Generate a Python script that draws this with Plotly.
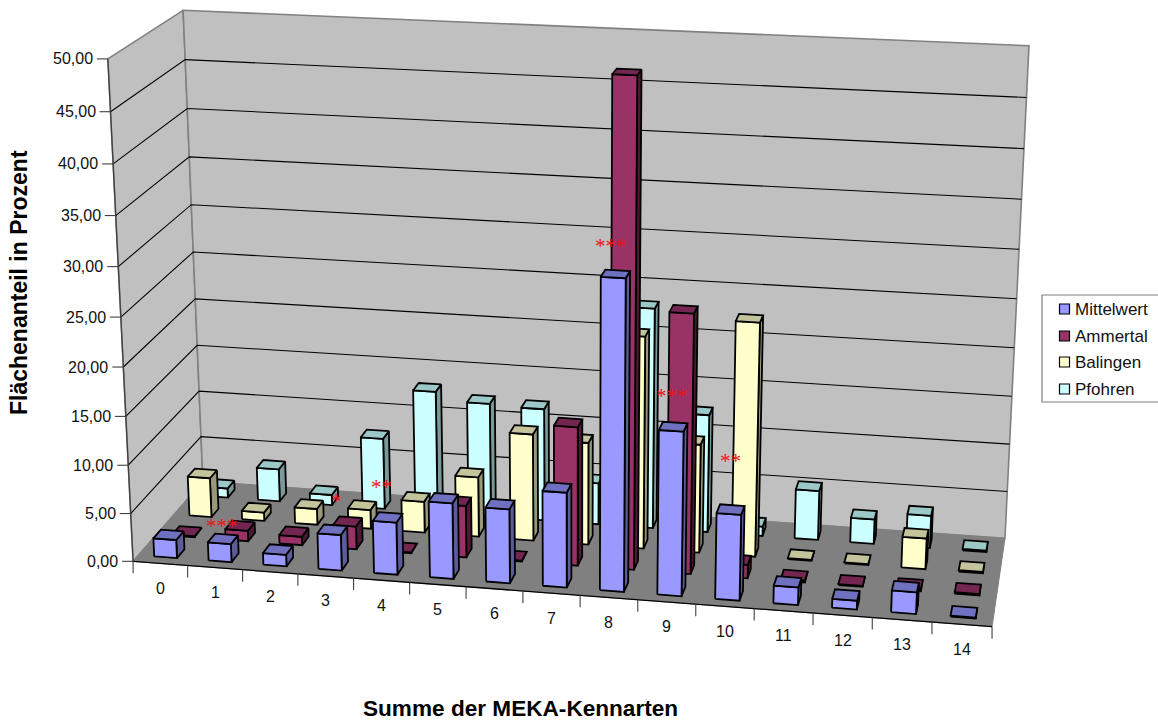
import numpy as np
import plotly.graph_objects as go

# Chart data: share of area per number of MEKA indicator species
categories = [str(i) for i in range(15)]
mittelwert = [1.9, 1.9, 1.2, 3.7, 5.4, 7.8, 7.6, 9.7, 31.2, 16.6, 8.7, 1.8, 0.9, 2.2, 0.1]
ammertal = [0.1, 1.1, 0.9, 2.4, 0.1, 5.4, 0.1, 14.3, 49.0, 26.4, 1.4, 0.2, 0.1, 0.2, 0.15]
balingen = [4.2, 0.9, 1.7, 2.0, 3.3, 6.3, 11.2, 10.7, 22.0, 11.3, 24.1, 0.1, 0.1, 3.2, 0.15]
pfohren = [1.0, 3.5, 1.1, 7.6, 13.0, 12.1, 11.9, 4.4, 23.1, 12.4, 1.0, 5.2, 2.6, 3.4, 0.15]

series_names = ["Mittelwert", "Ammertal", "Balingen", "Pfohren"]
series_values = [mittelwert, ammertal, balingen, pfohren]
front_colors = ["#9999FF", "#993366", "#FFFFCC", "#CCFFFF"]
top_colors = ["#7070C0", "#732650", "#C4C49C", "#9CC8C8"]
side_colors = ["#5C5C99", "#4D1A33", "#99997A", "#7A9999"]

value_ticks = list(range(0, 55, 5))
n_cat, n_ser, z_max = 15, 4, 50.0

# Camera calibration: box corners in chart units and where they sit on the sheet
anchors = [
    ((0, 0, 0), (133, 560)), ((15, 0, 0), (992, 628)), ((15, 4, 0), (1005, 537)),
    ((0, 4, 0), (203, 483)), ((0, 4, 50), (183, 10)), ((15, 4, 50), (1029, 46)),
    ((0, 0, 50), (108, 59)),
]
rows = []
for (cx, cy, cz), (u, v) in anchors:
    p = [cx / 15, cy / 4, cz / 50, 1]
    rows.append(p + [0, 0, 0, 0] + [-u * a for a in p])
    rows.append([0, 0, 0, 0] + p + [-v * a for a in p])
camera = np.linalg.svd(np.array(rows, float))[2][-1].reshape(3, 4)


def project(cx, cy, cz):
    q = camera @ np.array([cx / 15, cy / 4, cz / 50, 1.0])
    return q[0] / q[2], q[1] / q[2]


fig = go.Figure()


def poly(points, fill=None, line="#000000", width=1.8):
    pts = [project(*p) for p in points]
    xs = [p[0] for p in pts]
    ys = [p[1] for p in pts]
    if fill:
        xs.append(xs[0])
        ys.append(ys[0])
    fig.add_trace(go.Scatter(
        x=xs, y=ys, mode="lines", fill="toself" if fill else None,
        fillcolor=fill, line=dict(color=line, width=width),
        hoverinfo="skip", showlegend=False))


# Walls and floor
poly([(0, 0, 0), (0, 4, 0), (0, 4, 50), (0, 0, 50)], "#C0C0C0", "#808080", 1.6)
poly([(0, 4, 0), (15, 4, 0), (15, 4, 50), (0, 4, 50)], "#C0C0C0", "#808080", 1.6)
poly([(0, 0, 0), (15, 0, 0), (15, 4, 0), (0, 4, 0)], "#808080", "#808080", 1)

# Gridlines run along the left wall and across the back wall
for t in value_ticks[1:-1]:
    poly([(0, 0, t), (0, 4, t), (15, 4, t)], None, "#000000", 1.1)
poly([(0, 0, 0), (0, 0, 50)], None, "#404040", 1.3)
poly([(0, 0, 0), (15, 0, 0)], None, "#000000", 1.3)

# Bars, painted from the back row forward
half_w, half_d = 0.21, 0.21
for s in range(n_ser - 1, -1, -1):
    for c in range(n_cat - 1, -1, -1):
        v = series_values[s][c]
        x0, x1 = c + 0.5 - half_w, c + 0.5 + half_w
        y0, y1 = s + 0.5 - half_d, s + 0.5 + half_d
        poly([(x1, y0, 0), (x1, y1, 0), (x1, y1, v), (x1, y0, v)], side_colors[s])
        poly([(x0, y0, 0), (x1, y0, 0), (x1, y0, v), (x0, y0, v)], front_colors[s])
        poly([(x0, y0, v), (x1, y0, v), (x1, y1, v), (x0, y1, v)], top_colors[s])

annotations = []

# Value axis ticks and labels
for t in value_ticks:
    px, py = project(0, 0, t)
    fig.add_trace(go.Scatter(x=[px - 11, px], y=[py, py], mode="lines",
                             line=dict(color="#404040", width=1.1),
                             hoverinfo="skip", showlegend=False))
    annotations.append(dict(x=px - 13, y=py, xref="x", yref="y", xanchor="right",
                            yanchor="middle", showarrow=False,
                            text=f"{t:.2f}".replace(".", ","),
                            font=dict(family="Liberation Sans", size=16, color="#111111")))

# Category axis ticks and labels
for c in range(n_cat + 1):
    px, py = project(c, 0, 0)
    fig.add_trace(go.Scatter(x=[px, px], y=[py, py + 12], mode="lines",
                             line=dict(color="#404040", width=1.1),
                             hoverinfo="skip", showlegend=False))
for c, label in enumerate(categories):
    px, py = project(c + 0.5, 0, 0)
    annotations.append(dict(x=px, y=py + 25, xref="x", yref="y", showarrow=False,
                            xanchor="center", yanchor="middle", text=label,
                            font=dict(family="Liberation Sans", size=16, color="#111111")))

# Significance marks placed over the bars
sig_marks = ["***", "***", "**", "*", "***", "**"]
sig_x = [222, 611, 381, 336, 672, 730]
sig_y = [526, 246, 487, 501, 396, 461]
for text, sx, sy in zip(sig_marks, sig_x, sig_y):
    annotations.append(dict(x=sx, y=sy, xref="x", yref="y", showarrow=False,
                            xanchor="center", yanchor="middle", text=text,
                            font=dict(family="Liberation Serif", size=21, color="#EE1111")))

annotations.append(dict(x=520, y=708, xref="x", yref="y", showarrow=False,
                        text="<b>Summe der MEKA-Kennarten</b>",
                        font=dict(family="Liberation Sans", size=22.6, color="#000000")))
annotations.append(dict(x=19, y=283, xref="x", yref="y", showarrow=False, textangle=-90,
                        text="<b>Flächenanteil in Prozent</b>",
                        font=dict(family="Liberation Sans", size=23, color="#000000")))

# Legend box, swatches and labels
legend_shapes = [dict(type="rect", xref="x", yref="y", x0=1042, x1=1162, y0=295, y1=402,
                      layer="below", line=dict(color="#808080", width=1.2), fillcolor="#FFFFFF")]
legend_rows = [309, 336, 362, 389]
for name, color, row in zip(series_names, front_colors, legend_rows):
    fig.add_trace(go.Scatter(x=[1064.5], y=[row], mode="markers", name=name, showlegend=False,
                             hoverinfo="name", cliponaxis=False,
                             marker=dict(symbol="square", size=10, color=color,
                                         line=dict(color="#000000", width=1.2))))
    annotations.append(dict(x=1073, y=row, xref="x", yref="y", showarrow=False,
                            xanchor="left", yanchor="middle", text=name,
                            font=dict(family="Liberation Sans", size=17, color="#111111")))

fig.update_layout(
    width=1158, height=720, margin=dict(l=0, r=0, t=0, b=0),
    paper_bgcolor="#FFFFFF", plot_bgcolor="#FFFFFF", showlegend=False,
    xaxis=dict(range=[0, 1158], visible=False, fixedrange=True),
    yaxis=dict(range=[720, 0], visible=False, fixedrange=True),
    annotations=annotations, shapes=legend_shapes,
)

fig.write_html("out.html")
